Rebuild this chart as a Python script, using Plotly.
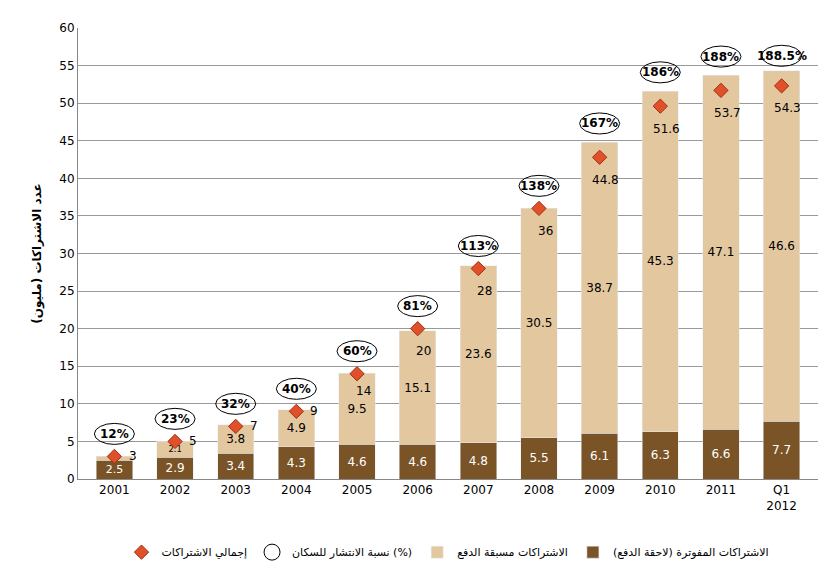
import plotly.graph_objects as go

years = ["2001","2002","2003","2004","2005","2006","2007","2008","2009","2010","2011","Q1<br>2012"]
postpaid = [2.5,2.9,3.4,4.3,4.6,4.6,4.8,5.5,6.1,6.3,6.6,7.7]
prepaid = [0.5,2.1,3.8,4.9,9.5,15.1,23.6,30.5,38.7,45.3,47.1,46.6]
prepaid_lbl = ["0.0","2.1","3.8","4.9","9.5","15.1","23.6","30.5","38.7","45.3","47.1","46.6"]
total = [3,5,7,9,14,20,28,36,44.8,51.6,53.7,54.3]
pen = ["12%","23%","32%","40%","60%","81%","113%","138%","167%","186%","188%","188.5%"]

idx = list(range(len(years)))
fig = go.Figure()
fig.add_bar(x=idx, y=postpaid, name="الاشتراكات المفوترة (لاحقة الدفع)", marker_color="#7a5427",
            text=[str(v) for v in postpaid], textposition="inside", insidetextanchor="middle",
            textfont=dict(color="white", size=12, family="DejaVu Sans"), width=0.6)
fig.add_bar(x=idx, y=prepaid, name="الاشتراكات مسبقة الدفع", marker_color="#e3c79f",
            text=prepaid_lbl, textposition="inside", insidetextanchor="middle",
            textfont=dict(color="black", size=12, family="DejaVu Sans"), width=0.6)
fig.add_scatter(x=[None], y=[None], mode="markers", name="نسبة الانتشار للسكان (%)",
                marker=dict(symbol="circle-open", size=16, color="black"))
fig.add_scatter(x=idx, y=[t-2 if i>=8 else t for i,t in enumerate(total)], mode="markers",
                name="إجمالي الاشتراكات",
                marker=dict(symbol="diamond", size=11, color="#e0502a", line=dict(color="#a03010", width=1)))
for i in idx:
    t = total[i]
    if i < 4:
        fig.add_annotation(x=i+0.2, y=t, text=str(t), showarrow=False, xanchor="left",
                           font=dict(size=12, color="black"))
    else:
        off = 2.3 if i == 4 else (3 if i < 8 else 5)
        fig.add_annotation(x=i+0.1, y=t-off, text=str(t), showarrow=False,
                           font=dict(size=12, color="black"))
    py = t + (3 if i < 8 else 2.5) if i != 11 else t + 1.5
    py = max(py, t+2)
    fig.add_annotation(x=i, y=py, text="<b>"+pen[i]+"</b>", showarrow=False, font=dict(size=12, color="black"))
    fig.add_shape(type="circle", x0=i-0.33, x1=i+0.33, y0=py-1.4, y1=py+1.4, line=dict(color="black", width=1))

fig.update_layout(barmode="stack", width=830, height=571, plot_bgcolor="white", paper_bgcolor="white",
                  margin=dict(l=70, r=20, t=20, b=90), bargap=0.4,
                  font=dict(family="DejaVu Sans", size=12, color="black"),
                  legend=dict(orientation="h", x=0.5, xanchor="center", y=-0.13, font=dict(size=11)))
fig.update_xaxes(tickvals=idx, ticktext=years, range=[-0.6, 11.6], showline=True, linecolor="#888",
                 tickfont=dict(size=12, color="black"))
fig.update_yaxes(range=[0, 60], dtick=5, gridcolor="#999", showline=True, linecolor="#888",
                 title=dict(text="<b>عدد الاشتراكات (مليون)</b>", font=dict(size=12)))
fig.write_html("out.html")
